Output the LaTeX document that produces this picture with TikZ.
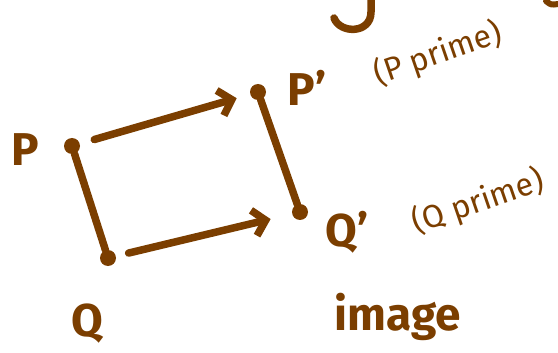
\documentclass[tikz,border=0pt]{standalone}
\usepackage{fontspec}
\setmainfont{Fira Sans}
\usetikzlibrary{arrows.meta}
\definecolor{sketchbrown}{RGB}{123,62,0}

\begin{document}
\begin{tikzpicture}[x=1pt,y=-1pt,
		pen/.style={line width=7.5pt, line cap=round, line join=round, draw=sketchbrown},
		dot/.style={circle, fill=sketchbrown, inner sep=0pt, minimum size=16pt},
		biglabel/.style={text=sketchbrown, inner sep=0pt, font=\fontsize{46pt}{50pt}\selectfont\bfseries},
		note/.style={text=sketchbrown, inner sep=0pt, rotate=19, font=\fontsize{32pt}{36pt}\selectfont}]
		\useasboundingbox (0,0) rectangle (558,353);
		
		% the points and their images
		\node[dot] (P) at (72,146) {};
		\node[dot] (Q) at (108,258) {};
		\node[dot] (Pp) at (258,92) {};
		\node[dot] (Qp) at (300,212) {};
		
		\draw[pen] (P) -- (Q);
		\draw[pen] (Pp) -- (Qp);
		
		\draw[pen, -{Straight Barb[length=12pt,width=26pt]}, shorten <=15pt, shorten >=14pt] (P) -- (Pp);
		\draw[pen, -{Straight Barb[length=12pt,width=26pt]}, shorten <=13pt, shorten >=22pt] (Q) -- (Qp);
		
		% labels
		\node[biglabel] (labP) at (25,150) {P};
		\node[biglabel] (labQ) at (87,324) {Q};
		\node[biglabel] (labPp) at (307,88) {P'};
		\node[biglabel] (labQp) at (347,232) {Q'};
		\node[biglabel] (labimage) at (398,317) {image};
		
		\node[note] (noteP) at (438,54) {(P prime)};
		\node[note] (noteQ) at (478,202) {(Q prime)};
		
		% bits of earlier writing at the top
		\draw[pen] (371,0) -- (371,12) .. controls (371,34) and (340,34) .. (334,18);
		\draw[pen, line width=6pt] (546,1) .. controls (551,5) .. (558,4);
		
	\end{tikzpicture}
\end{document}
